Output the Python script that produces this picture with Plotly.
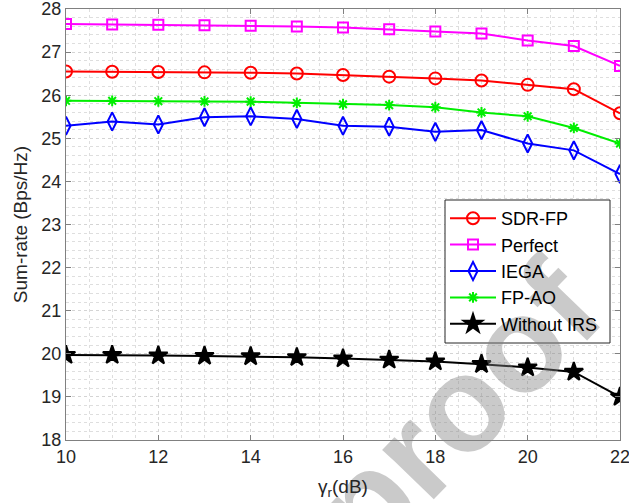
import plotly.graph_objects as go

# SINR threshold gamma_r (dB)
gamma_r = [10, 11, 12, 13, 14, 15, 16, 17, 18, 19, 20, 21, 22]

# Sum-rate (Bps/Hz) for each scheme
sdr_fp = [26.55, 26.545, 26.54, 26.53, 26.52, 26.505, 26.47, 26.43, 26.39, 26.34, 26.24, 26.14, 25.58]
perfect = [27.65, 27.64, 27.635, 27.625, 27.61, 27.595, 27.57, 27.53, 27.48, 27.43, 27.27, 27.14, 26.68]
iega = [25.29, 25.39, 25.32, 25.49, 25.51, 25.45, 25.29, 25.27, 25.15, 25.19, 24.88, 24.72, 24.17]
fp_ao = [25.87, 25.87, 25.86, 25.855, 25.85, 25.82, 25.79, 25.77, 25.72, 25.6, 25.51, 25.24, 24.88]
without_irs = [19.97, 19.97, 19.96, 19.95, 19.94, 19.92, 19.89, 19.86, 19.82, 19.76, 19.68, 19.58, 19.0]

series = [
    ("SDR-FP", sdr_fp, "#ff0000", "circle-open", 12),
    ("Perfect", perfect, "#ff00ff", "square-open", 10),
    ("IEGA", iega, "#0000ff", "diamond-tall-open", 13),
    ("FP-AO", fp_ao, "#00ee00", "asterisk-open", 9),
    ("Without IRS", without_irs, "#000000", "star", 14),
]

font_family = "Liberation Sans, Arial, sans-serif"

# plot-area geometry in pixels (used for placing legend and watermark)
W, H = 629, 503
ML, MR, MT, MB = 66, 9, 9, 63
PW, PH = W - ML - MR, H - MT - MB


def px_x(p):
    return (p - ML) / PW


def px_y(p):
    return (MT + PH - p) / PH


fig = go.Figure()
for name, vals, color, symbol, size in series:
    fig.add_trace(go.Scatter(
        x=gamma_r, y=vals, name=name, mode="lines+markers",
        line=dict(color=color, width=2),
        marker=dict(symbol=symbol, size=size, color=color,
                    line=dict(color=color, width=2)),
    ))

axis_common = dict(
    showline=True, linecolor="#808080", linewidth=1, mirror="ticks",
    ticks="inside", ticklen=5, tickcolor="#808080",
    showgrid=True, gridcolor="#d4d4d4", griddash="dot", gridwidth=1,
    zeroline=False, ticklabeloverflow="allow", automargin=False,
    tickfont=dict(family=font_family, size=18, color="#262626"),
)

fig.update_xaxes(
    range=[10, 22], dtick=2, tick0=10,
    minor=dict(dtick=0.5, showgrid=True, gridcolor="#dedede", griddash="dot"),
    title=dict(text="γ<sub>r</sub>(dB)", font=dict(family=font_family, size=19, color="#262626"),
               standoff=14),
    **axis_common,
)
fig.update_yaxes(
    range=[18, 28], dtick=1, tick0=18,
    minor=dict(dtick=0.2, showgrid=True, gridcolor="#dedede", griddash="dot"),
    title=dict(text="Sum-rate (Bps/Hz)", font=dict(family=font_family, size=19, color="#262626"),
               standoff=8),
    **axis_common,
)

# legend box: white panel with dark border drawn as a shape
fig.add_shape(
    type="rect", xref="paper", yref="paper", layer="above",
    x0=px_x(445), x1=px_x(610), y0=px_y(343), y1=px_y(200),
    fillcolor="white", line=dict(color="#262626", width=1),
)

# "proof" watermark, drawn as a shape label so it sits over the legend panel
wx, wy = 447, 400
fig.add_shape(
    type="rect", xref="paper", yref="paper", layer="above",
    x0=px_x(wx - 10), x1=px_x(wx + 10), y0=px_y(wy + 10), y1=px_y(wy - 10),
    fillcolor="rgba(0,0,0,0)", line=dict(width=0),
    label=dict(
        text="proof", textangle=-46, textposition="middle center",
        font=dict(family=font_family, size=135, weight="bold",
                  color="rgba(128,128,128,0.42)"),
    ),
)

fig.update_layout(
    width=W, height=H,
    margin=dict(l=ML, r=MR, t=MT, b=MB),
    paper_bgcolor="white", plot_bgcolor="white",
    font=dict(family=font_family, color="#262626"),
    legend=dict(
        x=px_x(445), y=px_y(200), xanchor="left", yanchor="top",
        bgcolor="rgba(0,0,0,0)", borderwidth=0,
        font=dict(family=font_family, size=18, color="#000000"),
        tracegroupgap=0, itemwidth=46,
    ),
    showlegend=True,
)

fig.write_html("out.html")
